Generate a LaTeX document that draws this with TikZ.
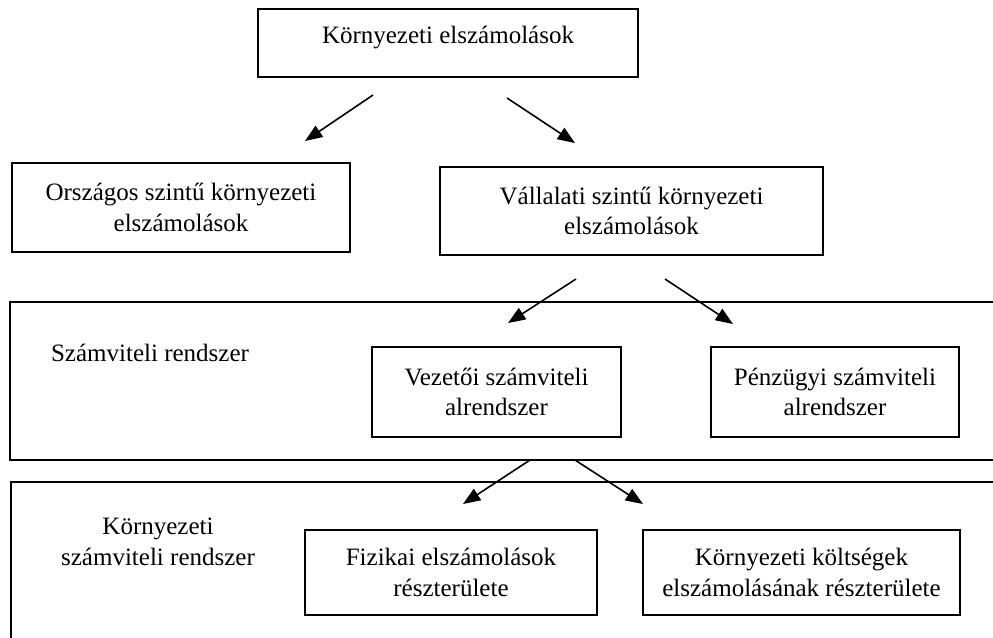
\documentclass[tikz,border=0pt]{standalone}
\usepackage{fontspec}
\setmainfont{Liberation Serif}
\usetikzlibrary{arrows.meta}
\tikzset{
  box/.style={draw, line width=1.2pt, rectangle, inner sep=0pt},
  lbl/.style={align=center, inner sep=0pt, font=\fontsize{18.75pt}{23pt}\selectfont},
  arr/.style={line width=1.2pt, -{Triangle[length=13pt,width=10pt]}}
}
\begin{document}
\begin{tikzpicture}[x=0.75pt,y=-0.75pt]
\useasboundingbox (0,0) rectangle (993,637);
\clip (0,0) rectangle (993,637);
% outer containers
\node[box, minimum width=750pt, minimum height=118.5pt] (szv) at (510,381) {};
\node[box, minimum width=749.25pt, minimum height=133.5pt] (kszv) at (510.5,571) {};
% boxes
\node[box, minimum width=285pt, minimum height=51pt] (top) at (448,43) {};
\node[lbl] (toptext) at (448,37) {Környezeti elszámolások};
\node[box, lbl, minimum width=253.5pt, minimum height=66.75pt] (orsz) at (181,207.5) {Országos szintű környezeti\\elszámolások};
\node[box, lbl, minimum width=287.25pt, minimum height=66pt] (vall) at (631.5,211) {Vállalati szintű környezeti\\elszámolások};
\node[lbl] (szvtext) at (150,353) {Számviteli rendszer};
\node[box, lbl, minimum width=186.75pt, minimum height=67.5pt] (vez) at (496.5,392) {Vezetői számviteli\\alrendszer};
\node[box, lbl, minimum width=186pt, minimum height=67.5pt] (penz) at (835,392) {Pénzügyi számviteli\\alrendszer};
\node[lbl] (kszvtext) at (158,542) {Környezeti\\számviteli rendszer};
\node[box, lbl, minimum width=219pt, minimum height=63.75pt] (fiz) at (451,572.5) {Fizikai elszámolások\\részterülete};
\node[box, lbl, minimum width=237.75pt, minimum height=63.75pt] (kolt) at (801.5,572.5) {Környezeti költségek\\elszámolásának részterülete};
% arrow end points
\coordinate (a1s) at (373,95);  \coordinate (a1e) at (305,141);
\coordinate (a2s) at (507,98);  \coordinate (a2e) at (575,143);
\coordinate (a3s) at (576,279); \coordinate (a3e) at (508,323);
\coordinate (a4s) at (665,279); \coordinate (a4e) at (733,324);
\coordinate (a5s) at (530,460); \coordinate (a5e) at (463,504);
\coordinate (a6s) at (575,460); \coordinate (a6e) at (643,504);
\draw[arr] (a1s) -- (a1e);
\draw[arr] (a2s) -- (a2e);
\draw[arr] (a3s) -- (a3e);
\draw[arr] (a4s) -- (a4e);
\draw[arr] (a5s) -- (a5e);
\draw[arr] (a6s) -- (a6e);
\end{tikzpicture}
\end{document}
